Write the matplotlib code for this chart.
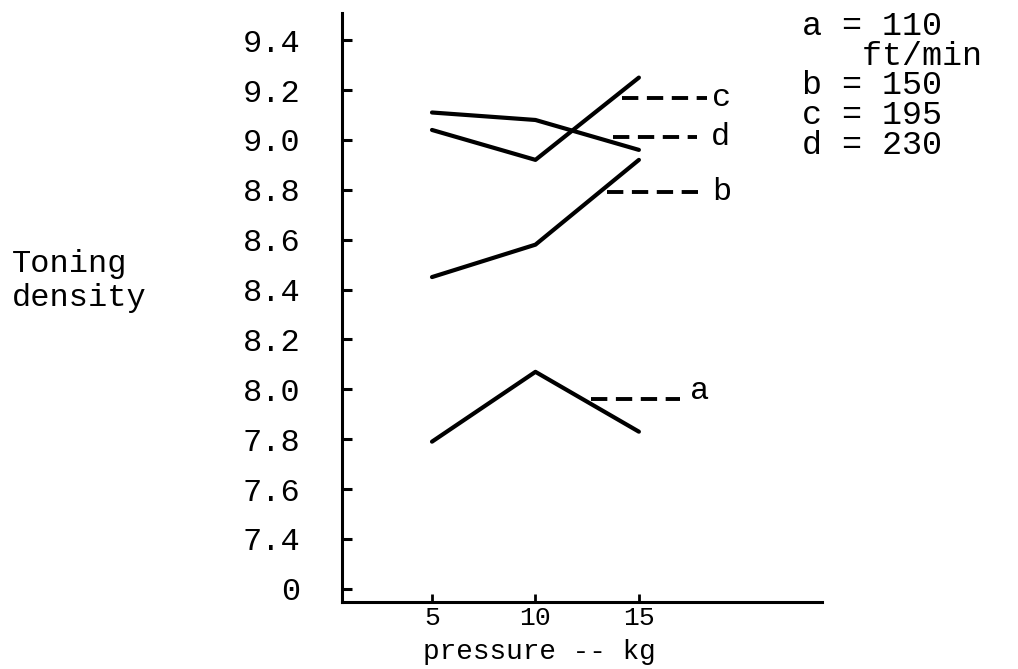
import matplotlib
matplotlib.use("Agg")
import matplotlib.pyplot as plt

# pressure settings (kg) and toning density for each speed
pressure = [5, 10, 15]
series_names = ["a", "b", "c", "d"]
density_a = [7.79, 8.07, 7.83]
density_b = [8.45, 8.58, 8.92]
density_c = [9.04, 8.92, 9.25]
density_d = [9.11, 9.08, 8.96]

# dashed tag for each curve: level on the density scale, start/end in kg
tag_level = {"a": 7.96, "b": 8.79, "c": 9.17, "d": 9.01}
tag_start = {"a": 12.7, "b": 13.45, "c": 14.2, "d": 13.75}
tag_end = {"a": 17.0, "b": 17.95, "c": 18.3, "d": 17.8}
tag_text_x = {"a": 17.45, "b": 18.55, "c": 18.55, "d": 18.5}

ytick_values = [7.2, 7.4, 7.6, 7.8, 8.0, 8.2, 8.4, 8.6, 8.8, 9.0, 9.2, 9.4]
ytick_labels = ["0", "7.4", "7.6", "7.8", "8.0", "8.2", "8.4", "8.6", "8.8",
                "9.0", "9.2", "9.4"]
xtick_values = [5, 10, 15]
xtick_labels = ["5", "10", "15"]

legend_lines = ["a = 110", "   ft/min", "b = 150", "c = 195", "d = 230"]

plt.rcParams["font.family"] = ["Liberation Mono", "DejaVu Sans Mono"]

W, H = 1018, 669
fig = plt.figure(figsize=(W / 100, H / 100), dpi=100)
ax = fig.add_axes([342 / W, 1 - 602 / H, (822 - 342) / W, (602 - 13) / H])

for vals in [density_a, density_b, density_c, density_d]:
    ax.plot(pressure, vals, color="black", lw=3.0, solid_capstyle="round")

for name in series_names:
    y = tag_level[name]
    ax.plot([tag_start[name], tag_end[name]], [y, y], color="black", lw=2.8,
            dashes=(4.2, 2.2))
    dy = 0.035 if name == "a" else 0.0
    ax.text(tag_text_x[name], y + dy, name, fontsize=23, va="center",
            ha="left")

ax.set_xlim(0.65, 23.85)
ax.set_ylim(7.147, 9.509)

for side in ["top", "right"]:
    ax.spines[side].set_visible(False)
ax.spines["left"].set_linewidth(2.2)
ax.spines["bottom"].set_linewidth(2.2)

ax.set_yticks(ytick_values)
ax.set_yticklabels(ytick_labels)
ax.set_xticks(xtick_values)
ax.set_xticklabels(xtick_labels)
ax.tick_params(axis="y", direction="in", length=7, width=2.2, pad=30,
               labelsize=23)
ax.tick_params(axis="x", direction="in", length=6, width=2, pad=3,
               labelsize=19)

ax.set_xlabel("pressure -- kg", fontsize=20)
ax.xaxis.set_label_coords((539 - 342) / 480, -0.062)
ax.set_ylabel("Toning\ndensity", fontsize=23, rotation=0, ha="left",
              va="center", multialignment="left")
ax.yaxis.set_label_coords((12 - 342) / 480, (602 - 281) / 589)

# speed key in the top right corner, typed as one block
fig.text(802 / W, 1 - 86 / H, "\n".join(legend_lines), fontsize=24,
         ha="left", va="center", linespacing=0.95)

fig.savefig("out.png", dpi=100)
